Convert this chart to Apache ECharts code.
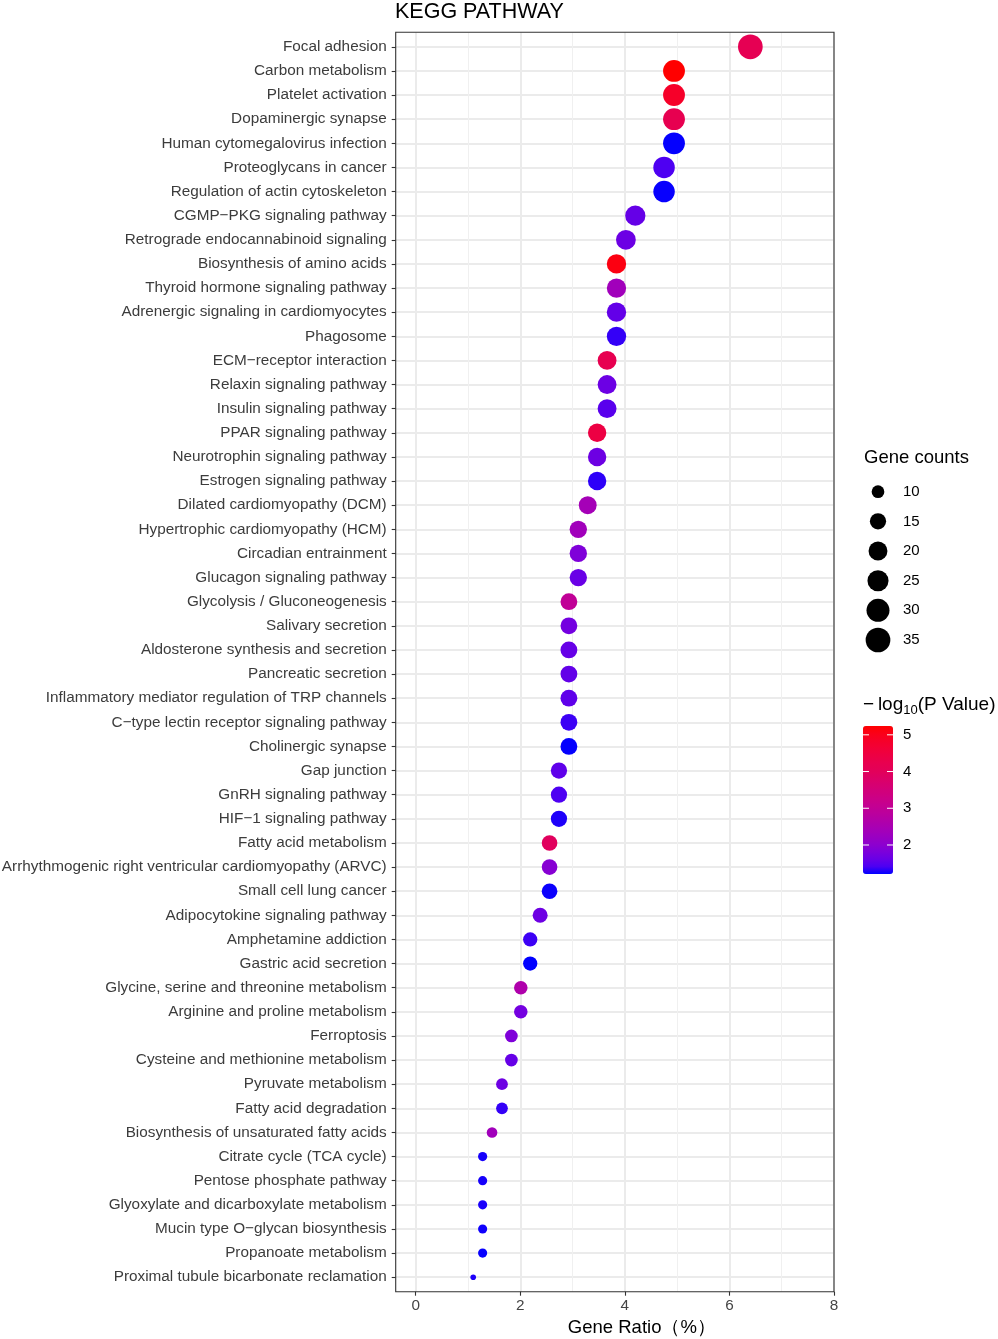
<!DOCTYPE html>
<html>
<head>
    <meta charset="utf-8">
    <title>KEGG PATHWAY</title>
    <script src="https://cdn.jsdelivr.net/npm/echarts@6.0.0/dist/echarts.min.js"></script>
    <style>
        html, body { margin: 0; padding: 0; background: #fff; }
        #main { width: 998px; height: 1339px; }
    </style>
</head>
<body>
    <div id="main"></div>
    <script type="text/javascript">

    // pathways, top to bottom
    var pathways = [
        'Focal adhesion', 'Carbon metabolism', 'Platelet activation', 'Dopaminergic synapse',
        'Human cytomegalovirus infection', 'Proteoglycans in cancer', 'Regulation of actin cytoskeleton',
        'CGMP\u2212PKG signaling pathway', 'Retrograde endocannabinoid signaling', 'Biosynthesis of amino acids',
        'Thyroid hormone signaling pathway', 'Adrenergic signaling in cardiomyocytes', 'Phagosome',
        'ECM\u2212receptor interaction', 'Relaxin signaling pathway', 'Insulin signaling pathway',
        'PPAR signaling pathway', 'Neurotrophin signaling pathway', 'Estrogen signaling pathway',
        'Dilated cardiomyopathy (DCM)', 'Hypertrophic cardiomyopathy (HCM)', 'Circadian entrainment',
        'Glucagon signaling pathway', 'Glycolysis / Gluconeogenesis', 'Salivary secretion',
        'Aldosterone synthesis and secretion', 'Pancreatic secretion',
        'Inflammatory mediator regulation of TRP channels', 'C\u2212type lectin receptor signaling pathway',
        'Cholinergic synapse', 'Gap junction', 'GnRH signaling pathway', 'HIF\u22121 signaling pathway',
        'Fatty acid metabolism', 'Arrhythmogenic right ventricular cardiomyopathy (ARVC)',
        'Small cell lung cancer', 'Adipocytokine signaling pathway', 'Amphetamine addiction',
        'Gastric acid secretion', 'Glycine, serine and threonine metabolism', 'Arginine and proline metabolism',
        'Ferroptosis', 'Cysteine and methionine metabolism', 'Pyruvate metabolism', 'Fatty acid degradation',
        'Biosynthesis of unsaturated fatty acids', 'Citrate cycle (TCA cycle)', 'Pentose phosphate pathway',
        'Glyoxylate and dicarboxylate metabolism', 'Mucin type O\u2212glycan biosynthesis',
        'Propanoate metabolism', 'Proximal tubule bicarbonate reclamation'
    ];
    var geneRatio = [
        6.40, 4.94, 4.94, 4.94, 4.94, 4.75, 4.75, 4.20, 4.02, 3.84,
        3.84, 3.84, 3.84, 3.66, 3.66, 3.66, 3.47, 3.47, 3.47, 3.29,
        3.11, 3.11, 3.11, 2.93, 2.93, 2.93, 2.93, 2.93, 2.93, 2.93,
        2.74, 2.74, 2.74, 2.56, 2.56, 2.56, 2.38, 2.19, 2.19, 2.01,
        2.01, 1.83, 1.83, 1.65, 1.65, 1.46, 1.28, 1.28, 1.28, 1.28,
        1.28, 1.10
    ];
    var geneCounts = [
        35, 27, 27, 27, 27, 26, 26, 23, 22, 21,
        21, 21, 21, 20, 20, 20, 19, 19, 19, 18,
        17, 17, 17, 16, 16, 16, 16, 16, 16, 16,
        15, 15, 15, 14, 14, 14, 13, 12, 12, 11,
        11, 10, 10, 9, 9, 8, 7, 7, 7, 7,
        7, 6
    ];
    var negLogP = [
        4.15, 5.24, 4.84, 4.20, 1.22, 1.43, 1.23, 1.59, 1.65, 5.10,
        2.34, 1.58, 1.35, 4.20, 1.65, 1.51, 4.43, 1.66, 1.33, 2.42,
        2.34, 1.85, 1.62, 2.98, 1.73, 1.60, 1.58, 1.55, 1.37, 1.22,
        1.55, 1.43, 1.29, 3.95, 1.94, 1.24, 1.66, 1.37, 1.21, 2.62,
        1.73, 1.85, 1.60, 1.66, 1.35, 2.34, 1.27, 1.27, 1.28, 1.25,
        1.23, 1.29
    ];
    var sizeBreaks = ['10', '15', '20', '25', '30', '35'];
    var colorBreaks = [2, 3, 4, 5];
    // blue -> red, stepped like a Lab gradient (purples come early)
    var rampColors = [
        '#0000FF', '#4B00F3', '#6800E6', '#7C00DB', '#8D00CE', '#9A00C2', '#A500B7',
        '#AF00AB', '#B9009F', '#C20094', '#CA0089', '#D0007D', '#D60072', '#DD0065',
        '#E30058', '#E8004F', '#ED0043', '#F20037', '#F60029', '#FB0018', '#FF0000'
    ];

    var FONT = 'Liberation Sans, Arial, Helvetica, sans-serif';
    var panel = { left: 395.7, top: 32.3, width: 438.3, height: 1259.4 };
    var rowPad = 14.5;
    var zeroX = 415.7;
    var bar = { left: 863, top: 726, width: 30, height: 148 };

    var cMin = Math.min.apply(null, geneCounts);
    var cMax = Math.max.apply(null, geneCounts);
    function dotSize(c) {
        return 5.6 + 19.1 * Math.sqrt((c - cMin) / (cMax - cMin));
    }
    var pMin = Math.min.apply(null, negLogP);
    var pMax = Math.max.apply(null, negLogP);

    var points = [];
    for (var i = 0; i < pathways.length; i++) {
        points.push([geneRatio[i], pathways[i], geneCounts[i], negLogP[i]]);
    }
    var sizePoints = sizeBreaks.map(function (s) { return [0, s]; });

    function hiddenValue(g) { return { type: 'value', gridIndex: g, show: false }; }

    var graphics = [
        { type: 'text', x: 864, y: 458,
          style: { text: 'Gene counts', fontSize: 18.5, fontFamily: FONT, fill: '#000', verticalAlign: 'middle' } },
        { type: 'text', x: 863, y: 706,
          style: { text: '{b|\u2212\u2009log}{s|10}{b|(P Value)}', fontFamily: FONT, fill: '#000', verticalAlign: 'middle',
                   rich: { b: { fontSize: 19, lineHeight: 22, fontFamily: FONT, verticalAlign: 'top' },
                           s: { fontSize: 13, lineHeight: 12, fontFamily: FONT, verticalAlign: 'bottom' } } } }
    ];
    colorBreaks.forEach(function (v) {
        var y = bar.top + (pMax - v) / (pMax - pMin) * bar.height;
        graphics.push({ type: 'line', z: 100, shape: { x1: bar.left, y1: y, x2: bar.left + 6, y2: y },
                        style: { stroke: '#fff', lineWidth: 1 } });
        graphics.push({ type: 'line', z: 100, shape: { x1: bar.left + bar.width - 6, y1: y, x2: bar.left + bar.width, y2: y },
                        style: { stroke: '#fff', lineWidth: 1 } });
        graphics.push({ type: 'text', x: 903, y: y,
                        style: { text: String(v), fontSize: 15, fontFamily: FONT, fill: '#000', verticalAlign: 'middle' } });
    });

    var option = {
        animation: false,
        backgroundColor: '#fff',
        textStyle: { fontFamily: FONT },
        title: {
            text: 'KEGG PATHWAY', left: 395, top: 1, padding: 0,
            textStyle: { fontSize: 21.5, fontWeight: 'normal', color: '#000', fontFamily: FONT }
        },
        grid: [
            // panel border
            { left: panel.left, top: panel.top, width: panel.width, height: panel.height, z: 10,
              show: true, borderColor: '#333333', borderWidth: 1.1, backgroundColor: 'transparent',
              containLabel: false, outerBoundsMode: 'none' },
            // rows (category labels, horizontal lines)
            { left: panel.left, top: panel.top + rowPad, width: panel.width, height: panel.height - 2 * rowPad,
              containLabel: false, outerBoundsMode: 'none' },
            // columns (x axis, vertical lines)
            { left: zeroX, top: panel.top, width: panel.left + panel.width - zeroX, height: panel.height,
              containLabel: false, outerBoundsMode: 'none' },
            // data
            { left: zeroX, top: panel.top + rowPad, width: panel.left + panel.width - zeroX, height: panel.height - 2 * rowPad,
              containLabel: false, outerBoundsMode: 'none' },
            // size legend
            { left: 870, top: 491.7, width: 16, height: 148.3, containLabel: false, outerBoundsMode: 'none' }
        ],
        xAxis: [
            hiddenValue(0),
            hiddenValue(1),
            {
                type: 'value', gridIndex: 2, min: 0, max: 8, interval: 2, position: 'bottom',
                axisLine: { show: false },
                axisTick: { show: true, length: 4, lineStyle: { color: '#333333', width: 1.1 } },
                axisLabel: { color: '#444', fontSize: 15.3, margin: 7, fontFamily: FONT },
                splitLine: { show: true, lineStyle: { color: '#ebebeb', width: 2 } },
                minorTick: { show: false, splitNumber: 2 },
                minorSplitLine: { show: true, lineStyle: { color: '#f0f0f0', width: 1 } },
                name: 'Gene Ratio\uff08%\uff09', nameLocation: 'middle', nameGap: 27,
                nameTextStyle: { color: '#000', fontSize: 18.5, fontFamily: FONT, padding: [0, 0, 0, 34] }
            },
            { type: 'value', gridIndex: 3, min: 0, max: 8, show: false },
            { type: 'value', gridIndex: 4, min: -1, max: 1, show: false }
        ],
        yAxis: [
            hiddenValue(0),
            {
                type: 'category', gridIndex: 1, data: pathways, inverse: true, boundaryGap: false,
                axisLine: { show: false },
                axisTick: { show: true, interval: 0, length: 4, lineStyle: { color: '#333333', width: 1.1 } },
                axisLabel: { interval: 0, color: '#3c3c3c', fontSize: 15.3, margin: 9, fontFamily: FONT },
                splitLine: { show: true, interval: 0, lineStyle: { color: '#ebebeb', width: 2 } }
            },
            hiddenValue(2),
            { type: 'category', gridIndex: 3, data: pathways, inverse: true, boundaryGap: false, show: false },
            {
                type: 'category', gridIndex: 4, data: sizeBreaks, inverse: true, boundaryGap: false, position: 'right',
                axisLine: { show: false }, axisTick: { show: false }, splitLine: { show: false },
                axisLabel: { interval: 0, color: '#000', fontSize: 15, margin: 17, fontFamily: FONT, align: 'left' }
            }
        ],
        visualMap: {
            type: 'continuous', seriesIndex: 0, dimension: 3, min: pMin, max: pMax,
            inRange: { color: rampColors },
            orient: 'vertical', left: bar.left, top: bar.top, padding: 0,
            itemWidth: bar.width, itemHeight: bar.height, calculable: false, hoverLink: false
        },
        graphic: graphics,
        series: [
            {
                type: 'scatter', xAxisIndex: 3, yAxisIndex: 3, data: points,
                symbolSize: function (d) { return dotSize(d[2]); },
                itemStyle: { opacity: 1 }
            },
            {
                type: 'scatter', xAxisIndex: 4, yAxisIndex: 4, data: sizePoints,
                symbolSize: function (d) { return dotSize(Number(d[1])); },
                itemStyle: { color: '#000', opacity: 1 }
            }
        ]
    };

    var myChart = echarts.init(document.getElementById('main'));
    myChart.setOption(option);
    </script>
</body>
</html>
